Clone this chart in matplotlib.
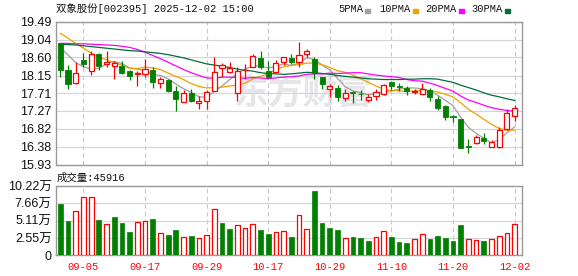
import matplotlib

matplotlib.use("Agg")
import matplotlib.pyplot as plt
import numpy as np
from matplotlib.patches import Rectangle

# ---- data (60 trading days) ----
dates = [
    "09-02", "09-03", "09-04", "09-05", "09-08", "09-09", "09-10", "09-11", "09-12", "09-15",
    "09-16", "09-17", "09-18", "09-19", "09-22", "09-23", "09-24", "09-25", "09-26", "09-29",
    "09-30", "10-09", "10-10", "10-13", "10-14", "10-15", "10-16", "10-17", "10-20", "10-21",
    "10-22", "10-23", "10-24", "10-27", "10-28", "10-29", "10-30", "10-31", "11-03", "11-04",
    "11-05", "11-06", "11-07", "11-10", "11-11", "11-12", "11-13", "11-14", "11-17", "11-18",
    "11-19", "11-20", "11-21", "11-24", "11-25", "11-26", "11-27", "11-28", "12-01", "12-02",
]
opens = [
    18.96, 18.29, 17.96, 18.54, 18.27, 18.69, 18.44, 18.39, 18.39, 18.26,
    18.19, 18.19, 18.29, 17.96, 18.03, 17.76, 17.50, 17.71, 17.47, 17.51,
    17.77, 18.33, 18.24, 17.72, 18.28, 18.37, 18.59, 18.26, 18.23, 18.48,
    18.58, 18.49, 18.68, 18.55, 18.11, 17.82, 17.83, 17.60, 17.75, 17.70,
    17.54, 17.65, 17.68, 17.99, 17.88, 17.85, 17.75, 17.69, 17.79, 17.57,
    17.39, 17.13, 17.07, 16.39, 16.48, 16.60, 16.36, 16.36, 16.81, 17.13,
]
highs = [
    18.97, 18.41, 18.49, 18.70, 18.77, 18.70, 18.75, 18.52, 18.50, 18.29,
    18.26, 18.55, 18.35, 18.12, 18.06, 17.89, 17.79, 17.82, 17.64, 17.78,
    18.61, 18.47, 18.49, 18.37, 18.44, 18.69, 18.77, 18.50, 18.54, 18.62,
    18.68, 18.98, 18.80, 18.60, 18.11, 17.94, 17.91, 17.81, 17.77, 17.79,
    17.69, 17.81, 17.93, 18.02, 17.96, 17.89, 17.81, 17.97, 17.83, 17.64,
    17.41, 17.17, 17.07, 16.58, 16.68, 16.71, 16.55, 16.88, 17.31, 17.42,
]
lows = [
    18.11, 17.81, 17.93, 18.37, 18.16, 18.28, 18.36, 18.07, 18.20, 18.04,
    17.89, 18.12, 17.85, 17.83, 17.75, 17.27, 17.48, 17.49, 17.32, 17.32,
    17.76, 18.12, 18.21, 17.52, 18.06, 18.37, 18.32, 18.09, 18.21, 18.41,
    18.43, 18.35, 18.60, 18.07, 17.81, 17.62, 17.52, 17.51, 17.47, 17.54,
    17.48, 17.54, 17.66, 17.79, 17.77, 17.66, 17.69, 17.69, 17.52, 17.29,
    17.04, 16.99, 16.34, 16.23, 16.45, 16.45, 16.36, 16.35, 16.80, 17.02,
]
closes = [
    18.30, 17.93, 18.21, 18.44, 18.69, 18.39, 18.49, 18.47, 18.22, 18.14,
    18.22, 18.31, 18.00, 18.06, 17.77, 17.57, 17.71, 17.52, 17.52, 17.74,
    18.25, 18.41, 18.34, 18.26, 18.29, 18.64, 18.37, 18.12, 18.45, 18.60,
    18.48, 18.67, 18.76, 18.22, 17.93, 17.89, 17.62, 17.71, 17.71, 17.69,
    17.62, 17.75, 17.91, 17.89, 17.87, 17.76, 17.77, 17.81, 17.62, 17.35,
    17.11, 17.12, 16.35, 16.38, 16.61, 16.51, 16.49, 16.79, 17.21, 17.35,
]
ma5 = [
    18.85, 18.66, 18.47, 18.37, 18.31, 18.33, 18.44, 18.50, 18.45, 18.34,
    18.31, 18.27, 18.18, 18.15, 18.07, 17.94, 17.82, 17.73, 17.62, 17.61,
    17.75, 17.89, 18.05, 18.20, 18.31, 18.39, 18.38, 18.34, 18.37, 18.44,
    18.40, 18.46, 18.59, 18.55, 18.41, 18.29, 18.08, 17.87, 17.77, 17.72,
    17.67, 17.70, 17.74, 17.77, 17.81, 17.84, 17.84, 17.82, 17.77, 17.66,
    17.53, 17.40, 17.11, 16.86, 16.71, 16.59, 16.47, 16.56, 16.72, 16.87,
]
ma10 = [
    19.20, 19.08, 18.95, 18.83, 18.71, 18.61, 18.54, 18.47, 18.41, 18.33,
    18.32, 18.36, 18.34, 18.30, 18.21, 18.13, 18.05, 17.95, 17.88, 17.84,
    17.85, 17.86, 17.89, 17.91, 17.96, 18.07, 18.13, 18.19, 18.29, 18.37,
    18.40, 18.42, 18.46, 18.46, 18.42, 18.35, 18.27, 18.23, 18.16, 18.07,
    17.98, 17.89, 17.81, 17.77, 17.77, 17.75, 17.77, 17.78, 17.77, 17.74,
    17.68, 17.62, 17.47, 17.31, 17.19, 17.06, 16.94, 16.83, 16.79, 16.79,
]
ma20 = [
    18.95, 18.95, 18.94, 18.94, 18.93, 18.92, 18.91, 18.90, 18.88, 18.85,
    18.80, 18.73, 18.65, 18.57, 18.48, 18.39, 18.30, 18.22, 18.15, 18.09,
    18.08, 18.11, 18.11, 18.10, 18.08, 18.10, 18.09, 18.07, 18.09, 18.11,
    18.12, 18.14, 18.18, 18.19, 18.19, 18.21, 18.20, 18.21, 18.22, 18.22,
    18.19, 18.16, 18.14, 18.12, 18.10, 18.05, 18.02, 18.01, 17.96, 17.90,
    17.83, 17.76, 17.64, 17.54, 17.48, 17.41, 17.35, 17.31, 17.28, 17.26,
]
ma30 = [
    18.93, 18.92, 18.91, 18.89, 18.87, 18.85, 18.83, 18.81, 18.79, 18.77,
    18.76, 18.74, 18.72, 18.70, 18.67, 18.63, 18.59, 18.54, 18.49, 18.44,
    18.41, 18.38, 18.35, 18.31, 18.28, 18.26, 18.22, 18.20, 18.19, 18.18,
    18.19, 18.21, 18.23, 18.22, 18.20, 18.18, 18.15, 18.13, 18.11, 18.09,
    18.07, 18.06, 18.05, 18.05, 18.05, 18.06, 18.06, 18.07, 18.07, 18.06,
    18.02, 17.98, 17.91, 17.85, 17.79, 17.72, 17.66, 17.62, 17.57, 17.53,
]
volumes = [
    75700, 50600, 65300, 86000, 86000, 52100, 46200, 56500, 47700, 34400,
    49200, 50600, 53500, 32900, 30000, 37400, 27000, 28500, 25500, 30000,
    68300, 47700, 38800, 44700, 40300, 46200, 37400, 31400, 34400, 35800,
    27000, 59400, 38300, 94800, 47700, 40300, 37400, 25000, 27000, 25500,
    21100, 26500, 35400, 27000, 19600, 18100, 23600, 31000, 24000, 28500,
    25500, 21100, 44700, 23600, 22100, 21100, 23600, 28000, 32900, 45916,
]
# 1 = red (up) volume bar, 0 = green
vol_up = [
    0, 0, 1, 1, 1, 0, 1, 0, 0, 0,
    1, 1, 0, 1, 0, 0, 1, 0, 1, 1,
    1, 0, 0, 1, 1, 1, 0, 0, 1, 1,
    0, 1, 1, 0, 0, 0, 0, 1, 0, 0,
    0, 1, 1, 0, 0, 0, 1, 1, 0, 0,
    0, 0, 0, 1, 1, 0, 1, 1, 1, 1,
]
price_ticks = [19.49, 19.04, 18.60, 18.15, 17.71, 17.27, 16.82, 16.38, 15.93]
vol_ticks = [0, 25500, 51100, 76600, 102200]
vol_tick_labels = ["0", "2.55万", "5.11万", "7.66万", "10.22万"]
date_labels = ["09-05", "09-17", "09-29", "10-17", "10-29", "11-10", "11-20", "12-02"]
stock_name = "双象股份"
stock_code = "002395"
timestamp = "2025-12-02 15:00"
ma_names = ["5PMA", "10PMA", "20PMA", "30PMA"]

RED = "#ff0000"
GREEN = "#008000"
MA_COLORS = ["#a0a0a0", "#f0a000", "#ff00ff", "#006f3c"]
MONO_CJK = ["Liberation Mono", "Noto Sans CJK SC"]
SANS_CJK = ["Liberation Sans", "Noto Sans CJK SC"]

W, H = 578, 276
fig = plt.figure(figsize=(W / 100, H / 100), dpi=100)


def px_axes(left, top, right, bottom):
    return fig.add_axes([left / W, 1 - bottom / H, (right - left) / W, (bottom - top) / H])


ax = px_axes(55.7, 21.7, 522.3, 164.7)
axv = px_axes(55.7, 186, 522.3, 255.3)

x = np.arange(len(closes))
o, h, l, c = (np.array(a) for a in (opens, highs, lows, closes))
up = c >= o
body_lo = np.minimum(o, c)
body_hi = np.maximum(o, c)
body_h = np.maximum(body_hi - body_lo, 0.008)
tick_pos = [dates.index(d) for d in date_labels]

for a in (ax, axv):
    a.set_xlim(-0.6, 60.0)
    a.set_axisbelow(True)
    for s in a.spines.values():
        s.set_color("#999999")
        s.set_linewidth(1.0)
    a.set_xticks(tick_pos)
    a.grid(axis="y", color="#d4d4d4", lw=0.8, ls="-")
    a.grid(axis="x", color="#c8c8c8", lw=0.8, ls=(0, (4, 3)))

# watermark
ax.text(0.53, 0.5, "东方财富", transform=ax.transAxes, ha="center", va="center",
        fontsize=25, fontweight="bold", family="Noto Sans CJK SC", color="#e6e6ea", zorder=0.2)

# moving averages
for ma, col in zip([ma5, ma10, ma20, ma30], MA_COLORS):
    ax.plot(x, ma, color=col, lw=0.9, zorder=2)

# candles
wick_col = np.where(up, RED, GREEN)
ax.vlines(x, l, body_lo, colors=wick_col, lw=0.9, zorder=3)
ax.vlines(x, body_hi, h, colors=wick_col, lw=0.9, zorder=3)
ax.bar(x[up], body_h[up], bottom=body_lo[up], width=0.66, facecolor="white",
       edgecolor=RED, linewidth=0.9, zorder=4)
ax.bar(x[~up], body_h[~up], bottom=body_lo[~up], width=0.66, facecolor=GREEN,
       edgecolor=GREEN, linewidth=0.6, zorder=4)

ax.set_ylim(price_ticks[-1], price_ticks[0])
ax.set_yticks(price_ticks)
ax.set_yticklabels([f"{v:.2f}" for v in price_ticks])
ax.tick_params(axis="y", length=0, pad=3, labelsize=9, labelcolor="#111111")
ax.tick_params(axis="x", length=0, labelbottom=False)
for t in ax.get_yticklabels():
    t.set_family("Liberation Sans")

# volume
vu = np.array(vol_up, dtype=bool)
v = np.array(volumes)
axv.bar(x[vu], v[vu], width=0.62, facecolor="white", edgecolor=RED, linewidth=0.9, zorder=3)
axv.bar(x[~vu], v[~vu], width=0.62, facecolor=GREEN, edgecolor=GREEN, linewidth=0.5, zorder=3)
axv.set_ylim(vol_ticks[0], vol_ticks[-1])
axv.set_yticks(vol_ticks)
axv.set_yticklabels(vol_tick_labels)
axv.tick_params(axis="y", length=0, pad=3, labelsize=9, labelcolor="#111111")
axv.set_xticklabels(date_labels)
axv.tick_params(axis="x", length=0, pad=5, labelsize=7.5, labelcolor=RED)
for t in axv.get_yticklabels():
    t.set_family(SANS_CJK)
for t in axv.get_xticklabels():
    t.set_family(MONO_CJK)

# header texts
fig.text(56 / W, 1 - 9 / H, f"{stock_name}[{stock_code}] {timestamp}", ha="left", va="center",
         fontsize=7.5, family=MONO_CJK, color="#111111")
fig.text(57 / W, 1 - 177.7 / H, f"成交量:{volumes[-1]}", ha="left", va="center",
         fontsize=7.5, family=MONO_CJK, color="#111111")

legend_text_x = [338, 379.7, 425.3, 471.3]
legend_box_x = [365.3, 413, 459, 505.3]
for name, col, tx, bx in zip(ma_names, MA_COLORS, legend_text_x, legend_box_x):
    fig.text(tx / W, 1 - 9 / H, name, ha="left", va="center", fontsize=7.5,
             family="Liberation Mono", color="#111111")
    fig.patches.append(Rectangle((bx / W, 1 - 12.5 / H), 5 / W, 3 / H,
                                 transform=fig.transFigure, color=col))

fig.savefig("out.png", dpi=100)
plt.close(fig)
